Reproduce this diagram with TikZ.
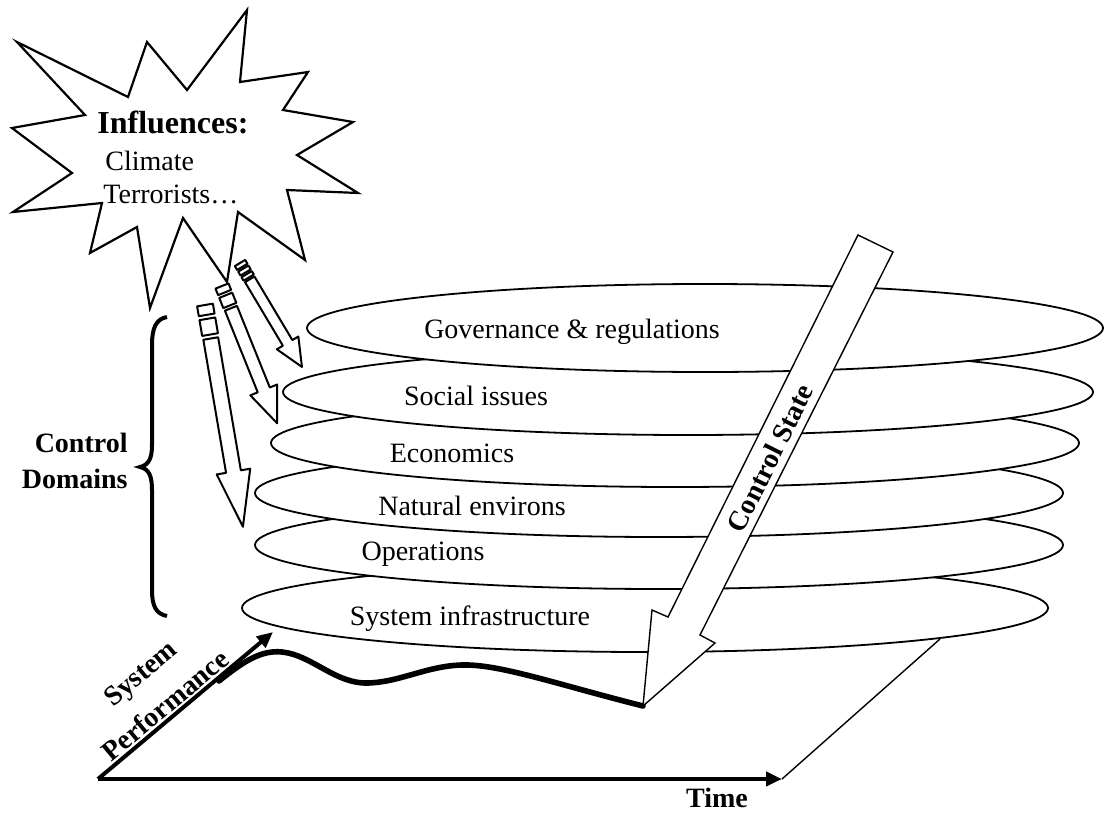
\documentclass[tikz,border=0pt]{standalone}
\usepackage{fontspec}
\setmainfont{Liberation Serif}
\usetikzlibrary{arrows.meta}

\tikzset{
  domring/.style={draw, line width=0.9pt, fill=white},
  domlabel/.style={anchor=base, inner sep=0pt, font=\fontsize{14}{17}\selectfont},
  plainlabel/.style={inner sep=0pt, font=\fontsize{14}{17}\selectfont},
  boldlabel/.style={inner sep=0pt, font=\fontsize{14}{17}\selectfont\bfseries},
  infarrow/.style={draw, line width=1pt, fill=white, line join=round},
  statearrow/.style={draw, line width=0.7pt, fill=white},
  axisline/.style={line width=2pt, -{Triangle[length=8pt,width=7pt]}},
  thinline/.style={line width=0.7pt},
}

% shaft start, head start, tip, shaft half width, head half width
\newcommand{\blockarrow}[5]{%
  \draw[infarrow] (#1,-#4) -- (#2,-#4) -- (#2,-#5) -- (#3,0) -- (#2,#5) -- (#2,#4) -- (#1,#4) -- cycle;}

\begin{document}
\begin{tikzpicture}[x=0.5pt, y=-0.5pt]
\useasboundingbox (0,0) rectangle (1110,814);

% control domains, lowest first
\draw[domring] (645,608) ellipse (403 and 44);
\draw[domring] (659,545) ellipse (404 and 44);
\draw[domring] (659,493) ellipse (404 and 44);
\draw[domring] (675,443) ellipse (404 and 44);
\draw[domring] (688,392) ellipse (405 and 43);
\draw[domring] (705,328) ellipse (398 and 44);

\node[domlabel] (gov)   at (572,338) {Governance \& regulations};
\node[domlabel] (soc)   at (476,405) {Social issues};
\node[domlabel] (eco)   at (452,462) {Economics};
\node[domlabel] (nat)   at (472,515) {Natural environs};
\node[domlabel] (ops)   at (423,560) {Operations};
\node[domlabel] (infra) at (470,625) {System infrastructure};

% axes
\coordinate (orig) at (98,779);
\coordinate (tEnd) at (782,779);
\coordinate (pEnd) at (273,632);
\coordinate (plane) at (940,639);
\draw[thinline] (tEnd) -- (plane);
\draw[axisline] (orig) -- (tEnd);
\draw[axisline] (orig) -- (pEnd);

% performance curve
\coordinate (cStart) at (219,681);
\coordinate (cEnd) at (643,706);
\draw[line width=2.8pt, line cap=round] (cStart) .. controls (245,660) and (262,650) .. (282,652)
  .. controls (312,655) and (335,684) .. (368,683)
  .. controls (402,682) and (430,664) .. (468,665)
  .. controls (505,666) and (560,685) .. (cEnd);

\node[boldlabel, rotate=39.8] (sys)  at (142,675) {System};
\node[boldlabel, rotate=39.8] (perf) at (165,705) {Performance};
\node[boldlabel, anchor=base] (time) at (717,807) {Time};

% control state
\draw[statearrow] (858,235) -- (668,617) -- (652,610) -- (cEnd) -- (715,643) -- (700,635) -- (893,252) -- cycle;
\node[boldlabel, rotate=63.6] (cstate) at (770,458) {Control State};

% brace
\draw[line width=2pt] (167,317) .. controls (156,319) and (152,328) .. (152,345) -- (152,445)
  .. controls (152,458) and (149,465) .. (140,467)
  .. controls (149,469) and (152,476) .. (152,490) -- (152,590)
  .. controls (152,606) and (156,614) .. (167,616);
\node[boldlabel, anchor=base east] (ctrl) at (128,452) {Control};
\node[boldlabel, anchor=base east] (dom)  at (128,488) {Domains};

% influence arrows
\begin{scope}[shift={(205,305)}, rotate=-80.3]
  \draw[infarrow] (0,-8) rectangle (10,8);
  \draw[infarrow] (14,-8) rectangle (30,8);
  \blockarrow{34}{169}{225}{7.5}{17}
\end{scope}
\begin{scope}[shift={(222,286)}, rotate=-68.1]
  \draw[infarrow] (0,-7) rectangle (7,7);
  \draw[infarrow] (10,-7) rectangle (21,7);
  \blockarrow{24}{112}{148}{6.5}{14.5}
\end{scope}
\begin{scope}[shift={(240,263)}, rotate=-59.2]
  \draw[infarrow] (0,-6) rectangle (4.5,6);
  \draw[infarrow] (6.5,-6) rectangle (11,6);
  \draw[infarrow] (13,-6) rectangle (17,6);
  \blockarrow{19}{93}{121}{5.5}{12.5}
\end{scope}

% influences
\draw[line width=1.1pt, fill=white, line join=miter] (247,10) -- (240,82) -- (308,72) -- (283,110) -- (353,122)
  -- (297,155) -- (358,193) -- (287,190) -- (305,260) -- (238,212) -- (227,282)
  -- (183,218) -- (150,308) -- (137,227) -- (90,253) -- (102,203) -- (13,212)
  -- (72,173) -- (12,128) -- (85,115) -- (17,42) -- (128,97) -- (147,42) -- (187,90) -- cycle;
\node[inner sep=0pt, anchor=base west, font=\fontsize{16}{19}\selectfont\bfseries] (infl) at (97,133) {Influences:};
\node[plainlabel, anchor=base west] (clim) at (105,170) {Climate};
\node[plainlabel, anchor=base west] (terr) at (103,203) {Terrorists\ldots};

\end{tikzpicture}
\end{document}
